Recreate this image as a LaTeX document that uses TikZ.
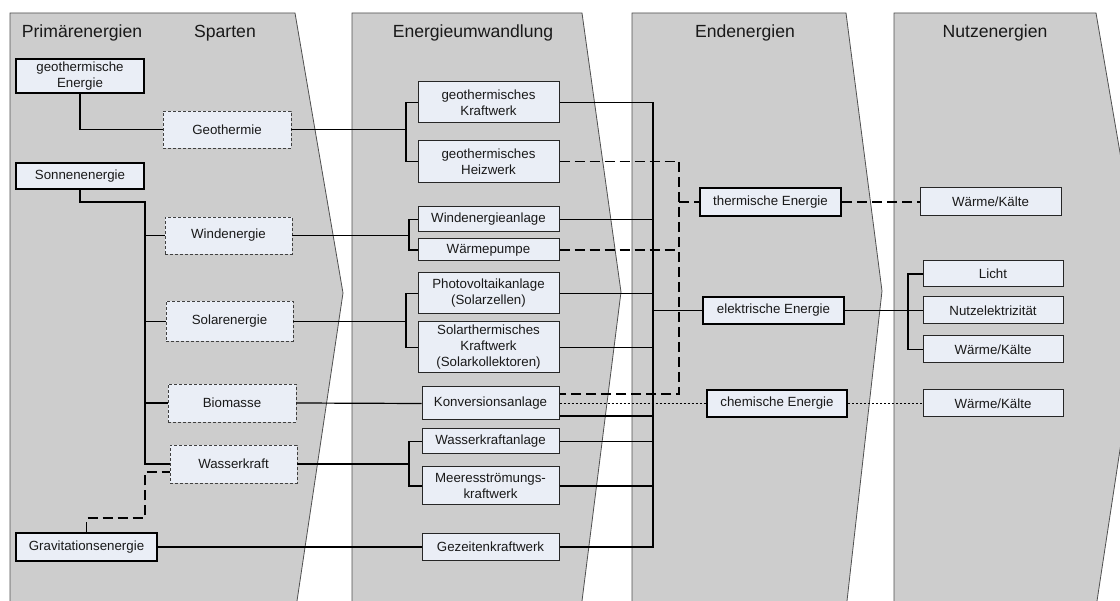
\documentclass[tikz,border=0pt]{standalone}
\usepackage{fontspec}
\setmainfont{Liberation Sans}
\definecolor{panelgray}{RGB}{205,205,205}
\definecolor{edgegray}{RGB}{80,80,80}
\definecolor{boxfill}{RGB}{234,238,246}
\definecolor{textdark}{RGB}{25,25,25}
\begin{document}
\begin{tikzpicture}[x=1pt,y=-1pt,
  panel/.style={fill=panelgray},
  paneledge/.style={draw=edgegray, line width=0.8pt, line join=miter},
  head/.style={font=\fontsize{17.6}{20}\selectfont, text=textdark, anchor=base, inner sep=0pt},
  box/.style={draw=black!85, fill=boxfill, line width=1pt, inner sep=0pt, align=center,
    font=\fontsize{13.3}{16}\selectfont, text=textdark},
  primbox/.style={box, line width=2.2pt, draw=black},
  spartebox/.style={box, line width=0.8pt, draw=black!75, dash pattern=on 3pt off 2pt},
  link/.style={line width=1.2pt, draw=black},
  dlink/.style={link, dash pattern=on 10pt off 5pt},
  olink/.style={link, line width=1.4pt, dash pattern=on 2pt off 2pt},
]
\useasboundingbox (0,0) rectangle (1120,601);
\fill[white] (0,0) rectangle (1120,601);

% chevron panels
\fill[panel] (10,601) -- (10,13) -- (295,13) -- (343,293) -- (297,601) -- cycle;
\fill[panel] (352,601) -- (352,13) -- (582,13) -- (621,292) -- (582,601) -- cycle;
\fill[panel] (632,601) -- (632,13) -- (846,13) -- (882,291) -- (847,601) -- cycle;
\fill[panel] (894,601) -- (894,13) -- (1096,13) -- (1144,292) -- (1097,601) -- cycle;
\draw[paneledge] (10,601) -- (10,13) -- (295,13) -- (343,293) -- (297,601);
\draw[paneledge] (352,601) -- (352,13) -- (582,13) -- (621,292) -- (582,601);
\draw[paneledge] (632,601) -- (632,13) -- (846,13) -- (882,291) -- (847,601);
\draw[paneledge] (894,601) -- (894,13) -- (1096,13) -- (1144,292) -- (1097,601);

% column headings
\node[head] (hprim) at (82,38) {Primärenergien};
\node[head] (hsparten) at (225,38) {Sparten};
\node[head] (humw) at (473,38) {Energieumwandlung};
\node[head] (hend) at (745,38) {Endenergien};
\node[head] (hnutz) at (995,38) {Nutzenergien};

% primary energies
\node[primbox, minimum width=128, minimum height=34] (geoE) at (80,76) {geothermische\\Energie};
\node[primbox, minimum width=128, minimum height=26] (sonne) at (80,176) {Sonnenenergie};
\node[primbox, minimum width=141, minimum height=28] (grav) at (86.5,547) {Gravitationsenergie};

% branches
\node[spartebox, minimum width=128, minimum height=37] (geo) at (227,129.5) {Geothermie};
\node[spartebox, minimum width=127, minimum height=37] (wind) at (228.5,235.5) {Windenergie};
\node[spartebox, minimum width=127, minimum height=40] (solar) at (229.5,321.5) {Solarenergie};
\node[spartebox, minimum width=128, minimum height=38] (bio) at (232,403) {Biomasse};
\node[spartebox, minimum width=127, minimum height=38] (wass) at (233.5,464) {Wasserkraft};

% conversion plants
\node[box, minimum width=141, minimum height=41] (gkw) at (488.5,102.5) {geothermisches\\Kraftwerk};
\node[box, minimum width=141, minimum height=42] (ghw) at (488.5,161.5) {geothermisches\\Heizwerk};
\node[box, minimum width=141, minimum height=25] (wea) at (488.5,219.5) {Windenergieanlage};
\node[box, minimum width=141, minimum height=22] (wp) at (488.5,250) {Wärmepumpe};
\node[box, minimum width=141, minimum height=41] (pv) at (488.5,293.5) {Photovoltaikanlage\\(Solarzellen)};
\node[box, minimum width=141, minimum height=51] (st) at (488.5,347.5) {Solarthermisches\\Kraftwerk\\(Solarkollektoren)};
\node[box, minimum width=137, minimum height=33] (konv) at (490.5,403.5) {Konversionsanlage};
\node[box, minimum width=137, minimum height=25] (wka) at (490.5,441.5) {Wasserkraftanlage};
\node[box, minimum width=137, minimum height=38] (mkw) at (490.5,486) {Meeresströmungs-\\kraftwerk};
\node[box, minimum width=137, minimum height=26] (gez) at (490.5,547) {Gezeitenkraftwerk};

% final energies
\node[primbox, minimum width=141, minimum height=28] (therm) at (770.5,202) {thermische Energie};
\node[primbox, minimum width=141, minimum height=27] (elek) at (773.5,310.5) {elektrische Energie};
\node[primbox, minimum width=140, minimum height=27] (chem) at (777,403.5) {chemische Energie};

% useful energies
\node[box, minimum width=141, minimum height=28] (wk1) at (990.5,202) {Wärme/Kälte};
\node[box, minimum width=140, minimum height=26] (licht) at (993,274) {Licht};
\node[box, minimum width=140, minimum height=27] (nutz) at (993,310.5) {Nutzelektrizität};
\node[box, minimum width=140, minimum height=27] (wk2) at (993,349.5) {Wärme/Kälte};
\node[box, minimum width=140, minimum height=27] (wk3) at (993,403.5) {Wärme/Kälte};

% bus points
\coordinate (sTop) at (145,202);
\coordinate (gBend) at (145,518);
\coordinate (gbus) at (406,129.5);
\coordinate (wbus) at (409,235.5);
\coordinate (pbus) at (406,321.5);
\coordinate (hbus) at (409,464);
\coordinate (eTop) at (653,102.5);
\coordinate (eBot) at (653,547);
\coordinate (tBot) at (679,394);
\coordinate (nbus) at (908,310.5);

% primary energies to branches
\draw[link] (geoE.south) |- (geo.west);
\draw[link] (sonne.south) |- (sTop) -- (sTop |- wass.west) -- (wass.west);
\draw[link] (sTop |- wind.west) -- (wind.west);
\draw[link] (sTop |- solar.west) -- (solar.west);
\draw[link] (sTop |- bio.west) -- (bio.west);
\draw[dlink] (grav.north) |- (gBend) -- (145,472) -- (wass.west |- 0,472);
\draw[link] (grav.east) -- (gez.west);

% branches to conversion plants
\draw[link] (geo.east) -- (gbus);
\draw[link] (gkw.west) -| (gbus) |- (ghw.west);
\draw[link] (wind.east) -- (wbus);
\draw[link] (wea.west) -| (wbus) |- (wp.west);
\draw[link] (solar.east) -- (pbus);
\draw[link] (pv.west) -| (pbus) |- (st.west);
\draw[link] (bio.east) -- (konv.west);
\draw[link] (wass.east) -- (hbus);
\draw[link] (wka.west) -| (hbus) |- (mkw.west);

% electricity bus
\draw[link] (gkw.east) -- (eTop) -- (eBot) -- (gez.east);
\draw[link] (wea.east) -- (wea.east -| eTop);
\draw[link] (pv.east) -- (pv.east -| eTop);
\draw[link] (st.east) -- (st.east -| eTop);
\draw[link] (konv.east |- 0,416) -- (eTop |- 0,416);
\draw[link] (wka.east) -- (wka.east -| eTop);
\draw[link] (mkw.east) -- (mkw.east -| eTop);
\draw[link] (eTop |- elek.west) -- (elek.west);

% heat bus
\draw[dlink] (ghw.east) -| (tBot) -- (konv.east |- tBot);
\draw[dlink] (wp.east) -- (wp.east -| tBot);
\draw[dlink] (tBot |- therm.west) -- (therm.west);

% chemical path
\draw[olink] (konv.east) -- (chem.west);

% final to useful energies
\draw[dlink] (therm.east) -- (wk1.west);
\draw[link] (elek.east) -- (nutz.west);
\draw[link] (licht.west) -| (nbus) |- (wk2.west);
\draw[olink] (chem.east) -- (wk3.west);
\end{tikzpicture}
\end{document}
